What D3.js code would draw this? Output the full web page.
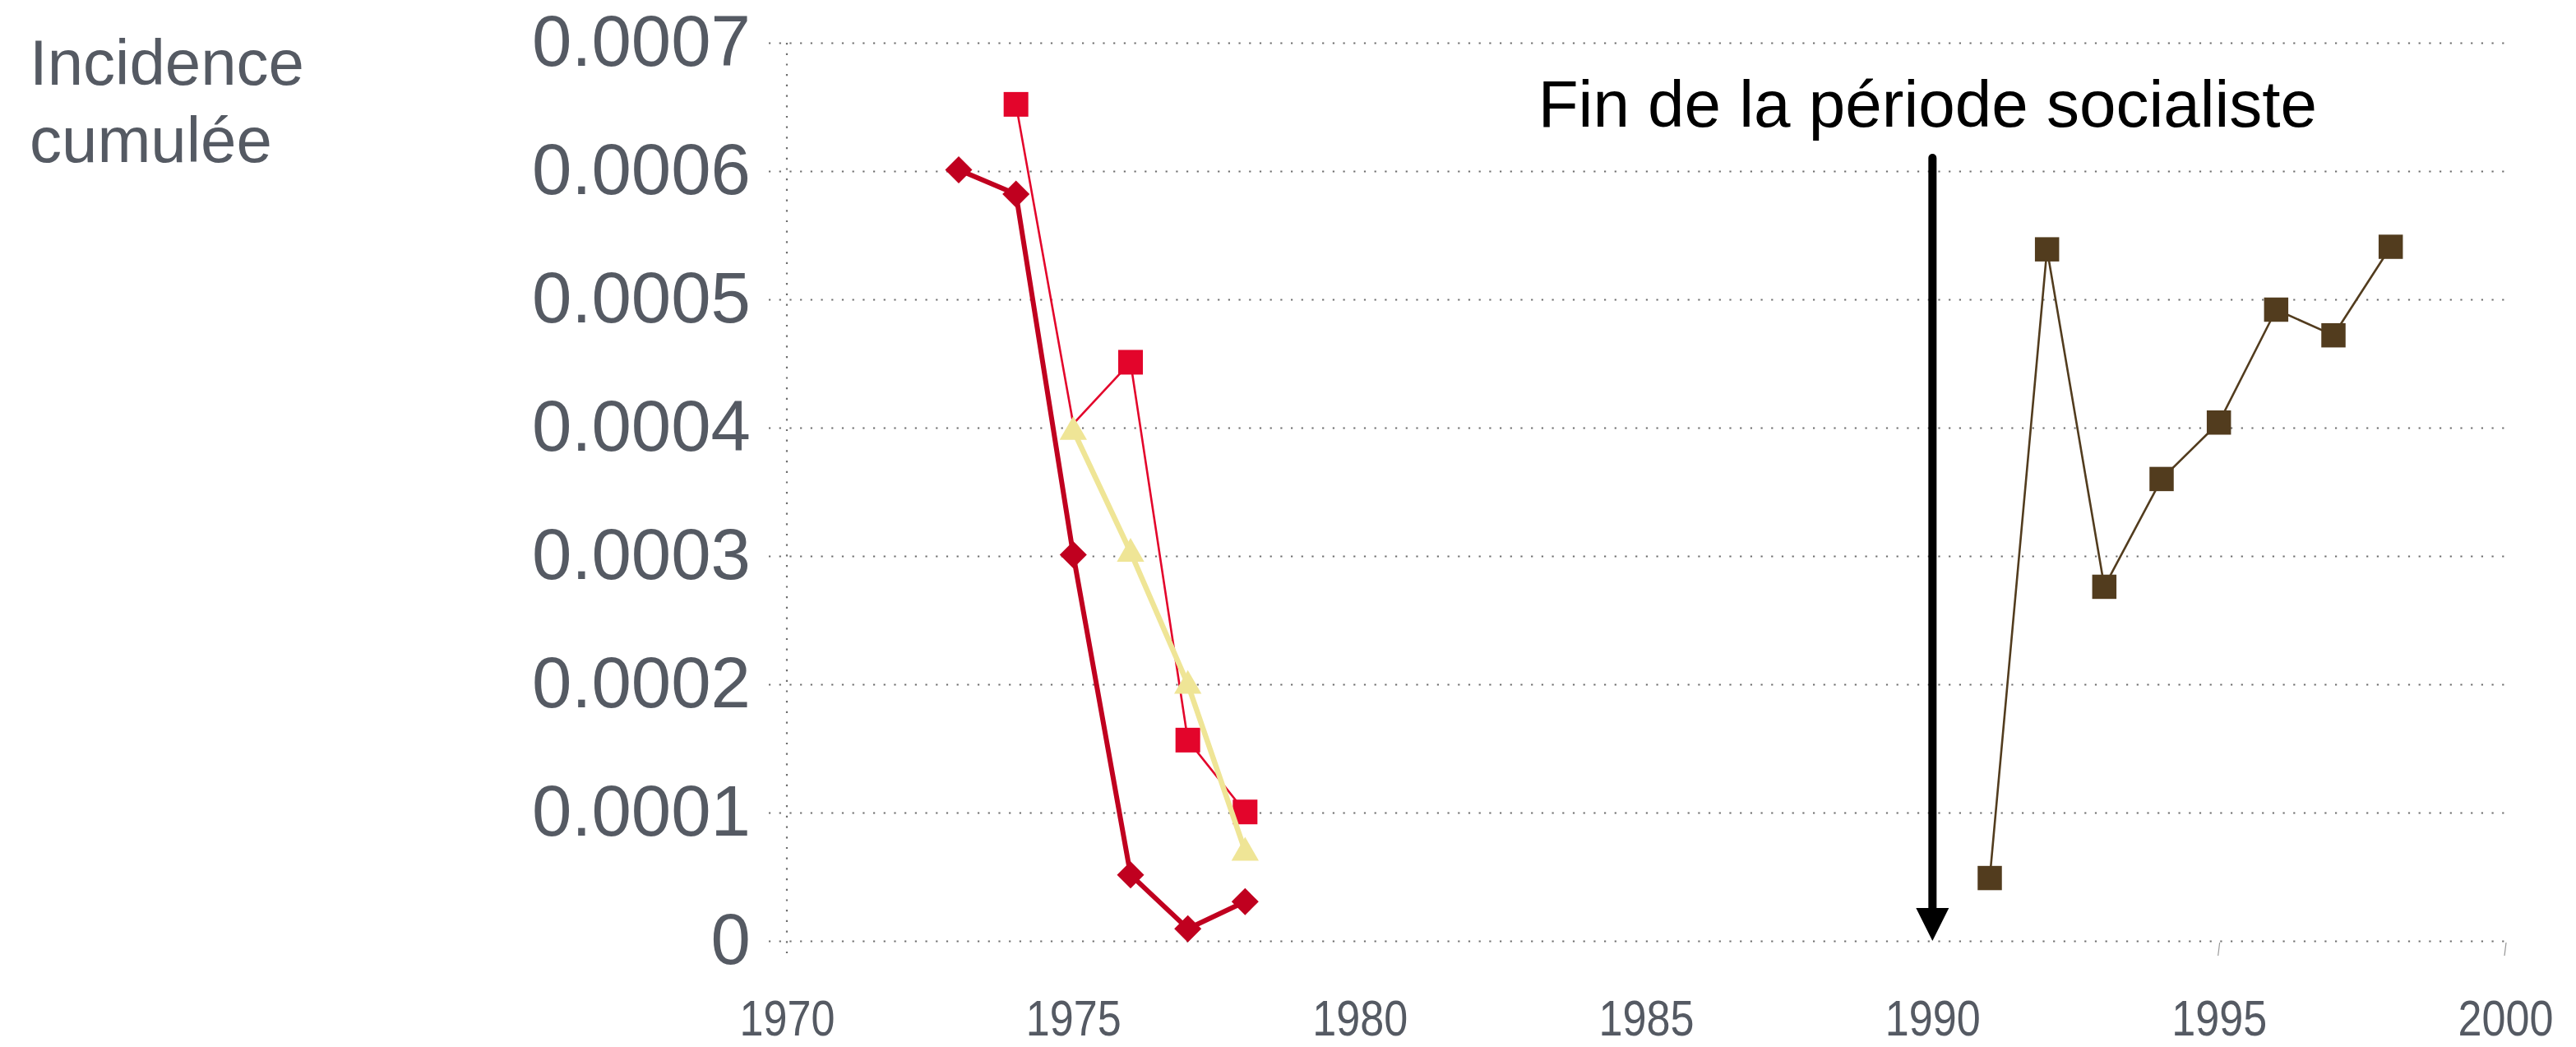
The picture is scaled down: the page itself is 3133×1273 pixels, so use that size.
<!DOCTYPE html>
<html>
<head>
<meta charset="utf-8">
<script src="https://cdn.jsdelivr.net/npm/d3@7"></script>
<style>
  html, body { margin: 0; padding: 0; background: #ffffff; }
  svg { display: block; }
</style>
</head>
<body>
<div id="chart"></div>
<script>
// ---- data ----
const yearsA = [1973, 1974, 1975, 1976, 1977, 1978];
const seriesA = [0.000601, 0.000582, 0.000301, 0.0000515, 0.0000095, 0.0000306];

const yearsB = [1974, 1975, 1976, 1977, 1978];
const seriesB = [0.000652, 0.000403, 0.000451, 0.0001565, 0.0001005];
const markersB = [true, false, true, true, true];

const yearsC = [1975, 1976, 1977, 1978];
const seriesC = [0.000398, 0.000303, 0.0002, 0.00007];

const yearsD = [1991, 1992, 1993, 1994, 1995, 1996, 1997, 1998];
const seriesD = [0.000049, 0.000539, 0.000276, 0.00036, 0.000404, 0.000492, 0.000472, 0.000541];

const yTicks = [0, 0.0001, 0.0002, 0.0003, 0.0004, 0.0005, 0.0006, 0.0007];
const yTickLabels = ["0", "0.0001", "0.0002", "0.0003", "0.0004", "0.0005", "0.0006", "0.0007"];
const xTicks = [1970, 1975, 1980, 1985, 1990, 1995, 2000];
const xTickLabels = ["1970", "1975", "1980", "1985", "1990", "1995", "2000"];

const yTitle = ["Incidence", "cumulée"];
const eventYear = 1990;
const eventLabel = "Fin de la période socialiste";

// ---- layout ----
const W = 3133, H = 1273;
const svg = d3.select("#chart").append("svg").attr("width", W).attr("height", H)
  .style("background", "#fff");

const x = d3.scaleLinear().domain([1970, 2000]).range([957, 3047]);
const y = d3.scaleLinear().domain([0, 0.0007]).range([1144, 52]);

const gridLeft = 935;
const gridColor = "#6e6e6e";
const labelFont = "'Liberation Sans', Arial, sans-serif";

// y axis with gridlines
const yAxis = d3.axisLeft(y)
  .tickValues(yTicks)
  .tickFormat((d, i) => yTickLabels[i])
  .tickSize(-(x(2000) - gridLeft))
  .tickPadding(22);

const gy = svg.append("g").attr("transform", `translate(${gridLeft},0)`).call(yAxis);
gy.select(".domain").remove();
gy.selectAll(".tick line")
  .attr("stroke", gridColor)
  .attr("stroke-width", 2.2)
  .attr("stroke-dasharray", "2.2,10.5");
gy.selectAll(".tick text")
  .attr("fill", "#555a63")
  .attr("font-family", labelFont)
  .attr("font-size", 87)
  .attr("dy", "0.32em");

// vertical dotted y-axis line
svg.append("line")
  .attr("x1", x(1970)).attr("x2", x(1970))
  .attr("y1", y(0.0007)).attr("y2", y(0) + 16)
  .attr("stroke", gridColor).attr("stroke-width", 2.2)
  .attr("stroke-dasharray", "2.2,10.5");

// x axis labels
const xAxis = d3.axisBottom(x)
  .tickValues(xTicks)
  .tickFormat((d, i) => xTickLabels[i])
  .tickSize(0)
  .tickPadding(71);
const gx = svg.append("g").attr("transform", `translate(0,${y(0)})`).call(xAxis);
gx.select(".domain").remove();
gx.selectAll(".tick text")
  .attr("fill", "#555a63")
  .attr("font-family", labelFont)
  .attr("font-size", 62)
  .attr("textLength", 116)
  .attr("lengthAdjust", "spacingAndGlyphs");

// tiny tick stubs near right end of x axis
[1995, 2000].forEach(v => {
  svg.append("line")
    .attr("x1", x(v) + 1).attr("x2", x(v) - 1)
    .attr("y1", y(0) + 2).attr("y2", y(0) + 18)
    .attr("stroke", "#9a9a9a").attr("stroke-width", 1.2);
});

// y title
const tt = svg.append("text")
  .attr("font-family", labelFont)
  .attr("font-size", 78)
  .attr("fill", "#555a63");
tt.append("tspan").attr("x", 36).attr("y", 103).text(yTitle[0]);
tt.append("tspan").attr("x", 36).attr("y", 197).text(yTitle[1]);

// event arrow
const ax = x(eventYear);
svg.append("line")
  .attr("x1", ax).attr("x2", ax)
  .attr("y1", 192).attr("y2", y(0) - 36)
  .attr("stroke", "#000").attr("stroke-width", 10)
  .attr("stroke-linecap", "round");
svg.append("path")
  .attr("d", `M${ax - 20},${y(0) - 40} L${ax + 20},${y(0) - 40} L${ax},${y(0)} Z`)
  .attr("fill", "#000");
svg.append("text")
  .attr("x", ax - 6).attr("y", 154)
  .attr("text-anchor", "middle")
  .attr("font-family", labelFont)
  .attr("font-size", 80)
  .attr("fill", "#000")
  .text(eventLabel);

// ---- series ----
const line = d3.line().x(d => x(d[0])).y(d => y(d[1]));

function drawSeries(years, vals, opts) {
  const pts = years.map((yr, i) => [yr, vals[i], opts.markers ? opts.markers[i] : true]);
  svg.append("path")
    .datum(pts)
    .attr("d", line)
    .attr("fill", "none")
    .attr("stroke", opts.color)
    .attr("stroke-width", opts.width)
    .attr("stroke-linejoin", "round");
  svg.append("g").selectAll("path")
    .data(pts.filter(p => p[2]))
    .join("path")
    .attr("d", d3.symbol(opts.symbol, opts.size))
    .attr("transform", d => `translate(${x(d[0])},${y(d[1]) + (opts.dy || 0)}) rotate(${opts.rotate || 0})`)
    .attr("fill", opts.color);
}

drawSeries(yearsA, seriesA, { color: "#c0001f", width: 6, symbol: d3.symbolSquare, size: 545, rotate: 45 });
drawSeries(yearsB, seriesB, { color: "#e3052b", width: 2.6, symbol: d3.symbolSquare, size: 900, markers: markersB });
drawSeries(yearsC, seriesC, { color: "#efe596", width: 6.5, symbol: d3.symbolTriangle, size: 480, dy: 2 });
drawSeries(yearsD, seriesD, { color: "#523c1e", width: 2.6, symbol: d3.symbolSquare, size: 870 });
</script>
</body>
</html>
